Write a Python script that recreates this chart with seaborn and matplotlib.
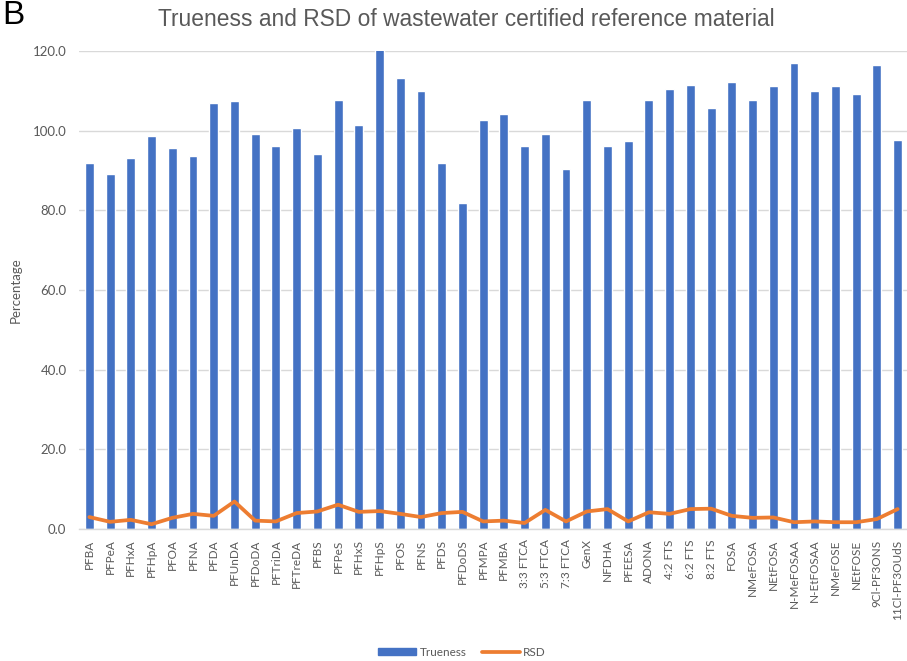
import numpy as np
import pandas as pd
import matplotlib
matplotlib.use("Agg")
import matplotlib.pyplot as plt
import seaborn as sns
from matplotlib.patches import Patch
from matplotlib.lines import Line2D

compounds = ["PFBA", "PFPeA", "PFHxA", "PFHpA", "PFOA", "PFNA", "PFDA", "PFUnDA",
             "PFDoDA", "PFTriDA", "PFTreDA", "PFBS", "PFPeS", "PFHxS", "PFHpS", "PFOS",
             "PFNS", "PFDS", "PFDoDS", "PFMPA", "PFMBA", "3:3 FTCA", "5:3 FTCA",
             "7:3 FTCA", "GenX", "NFDHA", "PFEESA", "ADONA", "4:2 FTS", "6:2 FTS",
             "8:2 FTS", "FOSA", "NMeFOSA", "NEtFOSA", "N-MeFOSAA", "N-EtFOSAA",
             "NMeFOSE", "NEtFOSE", "9Cl-PF3ONS", "11Cl-PF3OUdS"]
trueness = [92.0, 89.0, 93.2, 98.7, 95.6, 93.6, 106.9, 107.4,
            99.1, 96.2, 100.7, 94.2, 107.8, 101.4, 120.5, 113.1,
            110.0, 92.0, 81.8, 102.8, 104.1, 96.1, 99.1,
            90.3, 107.6, 96.1, 97.4, 107.6, 110.5, 111.4,
            105.8, 112.1, 107.6, 111.1, 117.1, 110.0,
            111.1, 109.3, 116.6, 97.6]
rsd = [3.0, 1.8, 2.3, 1.2, 2.8, 3.8, 3.3, 6.9,
       2.1, 1.9, 4.0, 4.4, 6.1, 4.3, 4.5, 3.8,
       3.0, 4.0, 4.3, 1.9, 2.1, 1.5, 4.8,
       1.9, 4.4, 5.0, 1.9, 4.2, 3.8, 5.0,
       5.1, 3.3, 2.8, 2.9, 1.7, 1.9,
       1.7, 1.7, 2.5, 5.0]
yticks = [0, 20, 40, 60, 80, 100, 120]

BLUE = "#4472C4"
ORANGE = "#ED7D31"
GRAY = "#595959"
GRID = "#D9D9D9"

sns.set_theme(style="white")
plt.rcParams["font.family"] = ["Lato", "DejaVu Sans"]

df = pd.DataFrame({"compound": compounds, "trueness": trueness,
                   "rsd": rsd, "pos": np.arange(len(compounds))})

fig = plt.figure(figsize=(9.07, 6.61), dpi=100)
ax = fig.add_axes([79 / 907, 132 / 661, 829 / 907, 478 / 661])

sns.barplot(data=df, x="compound", y="trueness", color=BLUE, width=0.43,
            saturation=1, ax=ax, zorder=2)
sns.lineplot(data=df, x="pos", y="rsd", color=ORANGE, linewidth=2.7, ax=ax,
             zorder=3)

ax.set_xlim(-0.5, len(compounds) - 0.5)
ax.set_ylim(0, 120)
ax.set_yticks(yticks)
ax.set_yticklabels([f"{v:.1f}" for v in yticks])
ax.grid(axis="y", color=GRID, linewidth=1, zorder=0)
ax.set_axisbelow(True)
for s in ["top", "right", "left"]:
    ax.spines[s].set_visible(False)
ax.spines["bottom"].set_color(GRID)
ax.spines["bottom"].set_linewidth(1)

ax.tick_params(axis="y", length=0, pad=9, labelsize=9.5, labelcolor=GRAY)
ax.tick_params(axis="x", length=0, pad=7.5, labelsize=8.5, labelcolor=GRAY)
ax.set_xticks(range(len(compounds)))
ax.set_xticklabels(compounds, rotation=90, va="top", ha="center")
ax.set_xlabel("")
ax.set_ylabel("Percentage", fontsize=9.5, color=GRAY)
ax.yaxis.set_label_coords(-57 / 829, 0.5)

fig.text(466 / 907, 1 - 20 / 661,
         "Trueness and RSD of wastewater certified reference material",
         ha="center", va="center", fontsize=16.4, color=GRAY,
         family=["Liberation Sans", "DejaVu Sans"])
fig.text(2 / 907, 1 - 16 / 661, "B", ha="left", va="center", fontsize=24,
         color="black", family=["Liberation Sans", "DejaVu Sans"])

handles = [Patch(facecolor=BLUE, edgecolor=BLUE),
           Line2D([0], [0], color=ORANGE, linewidth=2.7)]
fig.legend(handles, ["Trueness", "RSD"], loc="center",
           bbox_to_anchor=(462 / 907, 9 / 661), ncol=2, frameon=False,
           fontsize=8.5, labelcolor=GRAY, handlelength=3.2, handleheight=0.6,
           columnspacing=1.3, handletextpad=0.3)

fig.savefig("out.png", dpi=100)
